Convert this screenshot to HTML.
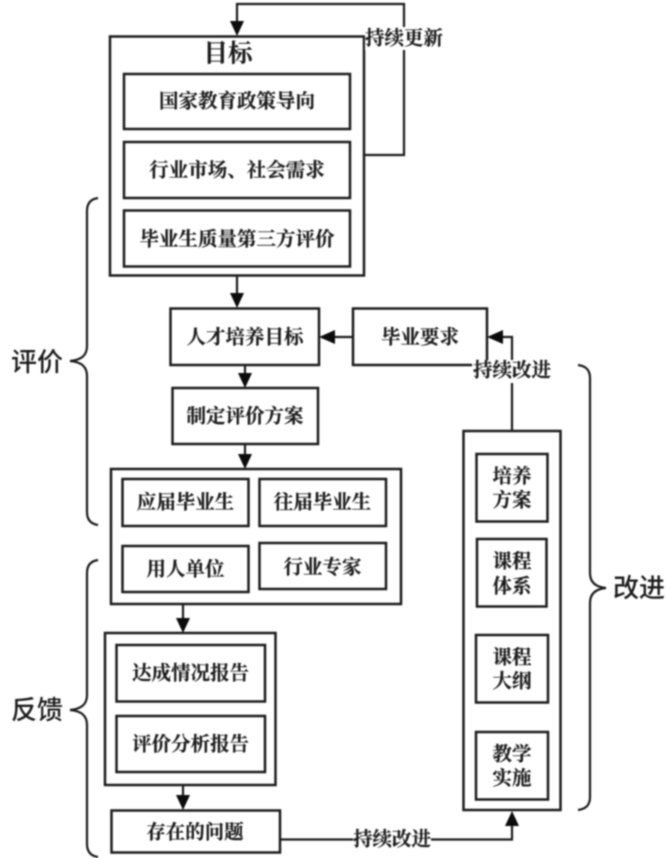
<!DOCTYPE html>
<html lang="zh">
<head>
<meta charset="utf-8">
<title>评价反馈改进</title>
<style>
html,body{margin:0;padding:0;background:#fff;width:666px;height:858px;overflow:hidden}
svg{display:block;filter:blur(0.7px)}
text{font-family:"Liberation Serif","Noto Serif CJK SC",serif;font-weight:700;fill:#1c1c1c;text-anchor:middle;dominant-baseline:central;stroke:#1c1c1c;stroke-width:0.2}
.b{fill:none;stroke:#1c1c1c;stroke-width:2.5}
.l{fill:none;stroke:#1c1c1c;stroke-width:2.2}
.a{fill:#0c0c0c;stroke:none}
.t{font-size:19.5px}
.s{font-family:"Liberation Sans","Noto Sans CJK SC",sans-serif;font-weight:500;font-size:26px;stroke-width:0}
</style>
</head>
<body>
<svg width="666" height="858" viewBox="0 0 666 858" xmlns="http://www.w3.org/2000/svg">
<rect width="666" height="858" fill="#fff"/>

<!-- connectors -->
<path class="l" d="M364 155H404V4H237V24"/>
<path class="a" d="M230 21H244L237 36Z"/>
<path class="l" d="M237 275V296"/>
<path class="a" d="M230 293H244L237 308Z"/>
<path class="l" d="M245 365V376"/>
<path class="a" d="M238 373H252L245 388Z"/>
<path class="l" d="M245 444V457"/>
<path class="a" d="M238 454H252L245 469Z"/>
<path class="l" d="M353 337H331"/>
<path class="a" d="M335 330V344L319 337Z"/>
<path class="l" d="M512 431V337H499"/>
<path class="a" d="M503 330V344L487 337Z"/>
<path class="l" d="M183 604V621"/>
<path class="a" d="M176 618H190L183 633Z"/>
<path class="l" d="M183 785V798"/>
<path class="a" d="M176 795H190L183 810Z"/>
<path class="l" d="M280 839.500H512V823"/>
<path class="a" d="M505 826H519L512 811Z"/>

<!-- target -->
<rect class="b" x="110" y="36.500" width="254" height="239"/>
<rect class="b" x="124" y="74" width="226" height="55"/>
<rect class="b" x="124" y="142" width="226" height="56"/>
<rect class="b" x="124" y="210.500" width="226" height="56"/>
<text x="228" y="54" font-size="24.500">目标</text>
<text class="t" x="237" y="102">国家教育政策导向</text>
<text class="t" x="237" y="171">行业市场、社会需求</text>
<text class="t" x="237" y="240">毕业生质量第三方评价</text>

<!-- middle -->
<rect class="b" x="170.500" y="308.500" width="148.500" height="56.500"/>
<rect class="b" x="353" y="308.500" width="134" height="56.500"/>
<rect class="b" x="172.500" y="388" width="145.500" height="56"/>
<text class="t" x="245" y="338">人才培养目标</text>
<text class="t" x="420" y="338">毕业要求</text>
<text class="t" x="245" y="417">制定评价方案</text>

<!-- stakeholder group -->
<rect class="b" x="111" y="469" width="290" height="135"/>
<rect class="b" x="122.500" y="479" width="126" height="47"/>
<rect class="b" x="259.500" y="479" width="126.500" height="47"/>
<rect class="b" x="122.500" y="546" width="126" height="46"/>
<rect class="b" x="259.500" y="543" width="126.500" height="46"/>
<text class="t" x="185.500" y="503">应届毕业生</text>
<text class="t" x="322.500" y="503">往届毕业生</text>
<text class="t" x="185.500" y="570">用人单位</text>
<text class="t" x="322.500" y="568">行业专家</text>

<!-- reports -->
<rect class="b" x="105" y="633" width="170.500" height="152"/>
<rect class="b" x="116.500" y="645" width="148.500" height="56.500"/>
<rect class="b" x="116.500" y="716" width="148.500" height="56"/>
<rect class="b" x="111.500" y="810.500" width="168.500" height="42"/>
<text class="t" x="190.500" y="674">达成情况报告</text>
<text class="t" x="190.500" y="745">评价分析报告</text>
<text class="t" x="195" y="833">存在的问题</text>

<!-- improvement -->
<rect class="b" x="463.500" y="431" width="97" height="379"/>
<rect class="b" x="476.500" y="454" width="71" height="67.500"/>
<rect class="b" x="477" y="539" width="69.500" height="67.500"/>
<rect class="b" x="476" y="635" width="72" height="67.500"/>
<rect class="b" x="476" y="732" width="72" height="67.500"/>
<text class="t" x="512" y="477">培养</text>
<text class="t" x="512" y="501">方案</text>
<text class="t" x="512" y="562">课程</text>
<text class="t" x="512" y="587">体系</text>
<text class="t" x="512" y="658">课程</text>
<text class="t" x="512" y="682">大纲</text>
<text class="t" x="512" y="755">教学</text>
<text class="t" x="512" y="779">实施</text>

<!-- connector labels -->
<rect x="365" y="27" width="78" height="23" fill="#fff"/>
<text class="t" x="404" y="39">持续更新</text>
<rect x="472" y="360" width="80" height="23" fill="#fff"/>
<text class="t" x="512" y="371">持续改进</text>
<rect x="353" y="829" width="78" height="22" fill="#fff"/>
<text class="t" x="392" y="840">持续改进</text>

<!-- braces -->
<path class="l" d="M98 198C91 199 87 203 87 211V346C87 355 82 360 70 361C82 362 87 367 87 376V512C87 520 91 524 98 525"/>
<path class="l" d="M98 560C91 561 87 565 87 573V695C87 704 82 709 70 710C82 711 87 716 87 725V844C87 852 91 856 98 857"/>
<path class="l" d="M578 365C586 366 590 370 590 378V573C590 582 595 587 606 588C595 589 590 594 590 603V797C590 805 586 809 578 810"/>

<!-- section labels -->
<text class="s" x="37" y="362">评价</text>
<text class="s" x="37" y="710">反馈</text>
<text class="s" x="639" y="588">改进</text>
</svg>
</body>
</html>
